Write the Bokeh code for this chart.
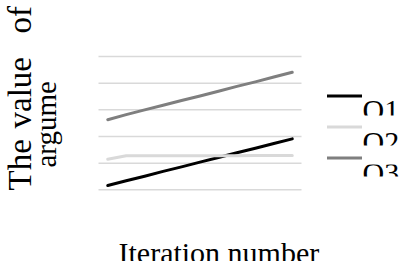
from bokeh.plotting import figure
from bokeh.models import (Label, Legend, LegendItem, BoxAnnotation, Range1d)
from bokeh.embed import file_html
from bokeh.resources import INLINE

# ---- data ----
iterations = list(range(1, 12))
O1 = [0.16, 0.34, 0.51, 0.69, 0.86, 1.04, 1.21, 1.39, 1.56, 1.74, 1.91]
O2 = [1.15, 1.28, 1.28, 1.28, 1.28, 1.28, 1.28, 1.28, 1.29, 1.29, 1.29]
O3 = [2.63, 2.82, 3.00, 3.17, 3.35, 3.52, 3.70, 3.88, 4.05, 4.23, 4.41]
series_names = ["O1", "O2", "O3"]
grid_values = [0, 1, 2, 3, 4, 5]
y_label_words = ["The", "value", "of"]
y_label_line2 = "argume"
x_label = "Iteration number"

series = [O1, O2, O3]
colors = ["#000000", "#d9d9d9", "#7f7f7f"]
FONT = "Liberation Serif"

W, H = 400, 261
# plot-area of the original chart (category band edges)
x_lo, x_hi = iterations[0] - 0.5, iterations[-1] + 0.5
px_per_x = 203 / (x_hi - x_lo)
px_per_y = 26.65
p = figure(width=W, height=H, output_backend="svg", toolbar_location=None,
           x_axis_type=None, y_axis_type=None,
           x_range=Range1d(x_lo - 98 / px_per_x, x_hi + 99 / px_per_x),
           y_range=Range1d(-(H - 189.3) / px_per_y, 189.3 / px_per_y),
           min_border=0)
p.outline_line_color = None
p.background_fill_color = "white"
p.border_fill_color = "white"

# horizontal gridlines spanning the category band
p.segment(x0=[x_lo] * len(grid_values), x1=[x_hi] * len(grid_values),
          y0=grid_values, y1=grid_values, line_color="#d9d9d9", line_width=1.5)

renderers = []
for vals, c in zip(series, colors):
    r = p.line(iterations, vals, line_color=c, line_width=3, line_join="round",
               line_cap="round")
    renderers.append(r)

# legend: line swatches from Bokeh's legend, names placed below-right of them
legend = Legend(items=[LegendItem(label=" ", renderers=[r]) for r in renderers],
                location=(327, 87.8), orientation="vertical",
                label_text_font=FONT, label_text_font_size="8px",
                glyph_width=35, glyph_height=31, label_height=31, label_width=1,
                label_standoff=1, padding=0, margin=0, spacing=0,
                border_line_color=None, background_fill_alpha=0)
p.add_layout(legend)

for name, ypos in zip(series_names, [109, 140.5, 172]):
    p.add_layout(Label(x=362, y=ypos, x_units="canvas", y_units="canvas",
                       text=name, text_font=FONT, text_font_size="30px",
                       text_align="left", text_baseline="alphabetic",
                       text_color="#000000"))

# white masks that cut the bottoms of the legend labels, as in the picture
for top, bottom in [(115, 132), (145, 164), (176, 215)]:
    p.add_layout(BoxAnnotation(left=363, right=W, top=top, bottom=bottom,
                               left_units="canvas", right_units="canvas",
                               top_units="canvas", bottom_units="canvas",
                               fill_color="white", fill_alpha=1,
                               line_color=None))

# y axis title (two rotated lines, clipped by the window)
for word, ypos in zip(y_label_words, [190, 128, 33]):
    p.add_layout(Label(x=19, y=ypos, x_units="canvas", y_units="canvas",
                       text=word, angle=90, angle_units="deg",
                       text_font=FONT, text_font_size="33px",
                       text_align="left", text_baseline="alphabetic",
                       text_color="#000000"))
p.add_layout(Label(x=45, y=167, x_units="canvas", y_units="canvas",
                   text=y_label_line2, angle=90, angle_units="deg",
                   text_font=FONT, text_font_size="29px",
                   text_align="left", text_baseline="alphabetic",
                   text_color="#000000"))

# x axis title
p.add_layout(Label(x=118, y=252, x_units="canvas", y_units="canvas",
                   text=x_label, text_font=FONT, text_font_size="30px",
                   text_align="left", text_baseline="alphabetic",
                   text_color="#000000"))

open("out.html", "w").write(file_html(p, INLINE))
